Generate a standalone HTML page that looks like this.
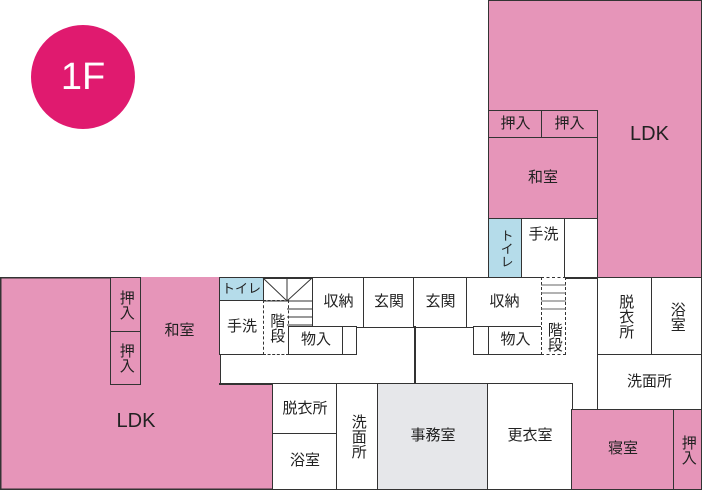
<!DOCTYPE html>
<html><head><meta charset="utf-8"><style>
body{margin:0;width:702px;height:490px;position:relative;background:#fff;overflow:hidden;font-family:"Liberation Sans","Noto Sans CJK JP",sans-serif;}
.r{position:absolute;box-sizing:border-box;border:1.5px solid #333;display:flex;align-items:center;justify-content:center;font-size:15px;color:#222;text-align:center;line-height:1.1;background:#fff;}
.p{background:#e695b9;}
.b{background:#b5dcea;}
.g{background:#e6e7ea;}
.v{writing-mode:vertical-rl;}
</style></head><body>
<div style="position:absolute;left:31px;top:25px;width:104px;height:104px;border-radius:50%;background:#e01a6f;color:#fff;font-size:38px;display:flex;align-items:center;justify-content:center">1F</div>

<!-- right top block -->
<div class="r p" style="left:488px;top:0;width:214px;height:279px"></div>
<div class="r p" style="left:598px;top:1px;width:103px;height:276px;border:none;font-size:20px;padding-bottom:10px">LDK</div>
<div class="r p" style="left:488px;top:110px;width:55px;height:29px">押入</div>
<div class="r p" style="left:541px;top:110px;width:57px;height:29px">押入</div>
<div class="r p" style="left:488px;top:137px;width:110px;height:83px">和室</div>
<div class="r b" style="left:488px;top:218px;width:35px;height:61px;font-size:13px;"><span class="v">トイレ</span></div>
<div class="r" style="left:521px;top:218px;width:45px;height:61px;align-items:flex-start;padding-top:8px">手洗</div>
<div class="r" style="left:564px;top:218px;width:34px;height:61px"></div>

<!-- main band outline -->
<div class="r" style="left:0;top:277px;width:702px;height:213px;border-width:2px"></div>
<svg style="position:absolute;left:0;top:0" width="702" height="490"><polygon points="0.75,277.75 220,277.75 220,383.75 272.75,383.75 272.75,489.25 0.75,489.25" fill="#e695b9" stroke="#333" stroke-width="1.5"/></svg>
<div style="position:absolute;left:0;top:410px;width:272px;text-align:center;font-size:20px;color:#222">LDK</div>
<div class="r p" style="left:139px;top:277px;width:82px;height:108px;border-left:none;border-top:none;border-bottom:none">和室</div>
<div class="r p" style="left:110px;top:277px;width:31px;height:56px"><span class="v">押入</span></div>
<div class="r p" style="left:110px;top:331px;width:31px;height:54px"><span class="v">押入</span></div>
<div class="r b" style="left:219px;top:277px;width:45px;height:25px;font-size:13px">トイレ</div>
<div class="r" style="left:219px;top:300px;width:46px;height:55px">手洗</div>
<div class="r" style="left:263px;top:300px;width:26px;height:55px;border-style:dashed;border-width:1px"><span class="v">階段</span></div>
<svg style="position:absolute;left:262px;top:277px" width="52" height="56"><path d="M1 1 L25 24 L50 1 M25 1 V24 M1 24 H50 M25 32 H50 M25 40 H50 M25 48 H50" stroke="#333" stroke-width="1" fill="none"/></svg>
<div class="r" style="left:312px;top:277px;width:53px;height:51px">収納</div>
<div class="r" style="left:363px;top:277px;width:52px;height:51px">玄関</div>
<div class="r" style="left:413px;top:277px;width:55px;height:51px">玄関</div>
<div class="r" style="left:466px;top:277px;width:77px;height:51px">収納</div>
<div class="r" style="left:288px;top:326px;width:56px;height:29px">物入</div>
<div class="r" style="left:342px;top:326px;width:15px;height:29px"></div>
<div class="r" style="left:473px;top:326px;width:17px;height:29px"></div>
<div class="r" style="left:488px;top:326px;width:55px;height:29px">物入</div>
<div style="position:absolute;left:414px;top:326px;width:1.5px;height:58px;background:#333"></div>
<div class="r" style="left:541px;top:277px;width:25px;height:78px;border-style:dashed;border-width:1px;align-items:flex-end;padding-bottom:2px"><span class="v">階段</span></div>
<svg style="position:absolute;left:541px;top:277px" width="25" height="40"><path d="M0 8 H25 M0 16 H25 M0 24 H25 M0 32 H25" stroke="#666" stroke-width="1"/></svg>
<div class="r" style="left:597px;top:277px;width:56px;height:79px"><span class="v">脱衣所</span></div>
<div class="r" style="left:651px;top:277px;width:51px;height:79px"><span class="v">浴室</span></div>
<div class="r" style="left:597px;top:354px;width:105px;height:57px">洗面所</div>
<div style="position:absolute;left:219px;top:383px;width:354px;height:2px;background:#333"></div>
<div style="position:absolute;left:571px;top:383px;width:2px;height:28px;background:#333"></div>

<!-- bottom row -->
<div class="r" style="left:272px;top:383px;width:66px;height:52px">脱衣所</div>
<div class="r" style="left:272px;top:433px;width:66px;height:57px">浴室</div>
<div class="r" style="left:336px;top:383px;width:43px;height:107px"><span class="v">洗面所</span></div>
<div class="r g" style="left:377px;top:383px;width:112px;height:107px">事務室</div>
<div class="r" style="left:487px;top:383px;width:86px;height:107px">更衣室</div>
<div class="r p" style="left:571px;top:409px;width:104px;height:81px">寝室</div>
<div class="r p" style="left:673px;top:409px;width:29px;height:81px"><span class="v">押入</span></div>
</body></html>
